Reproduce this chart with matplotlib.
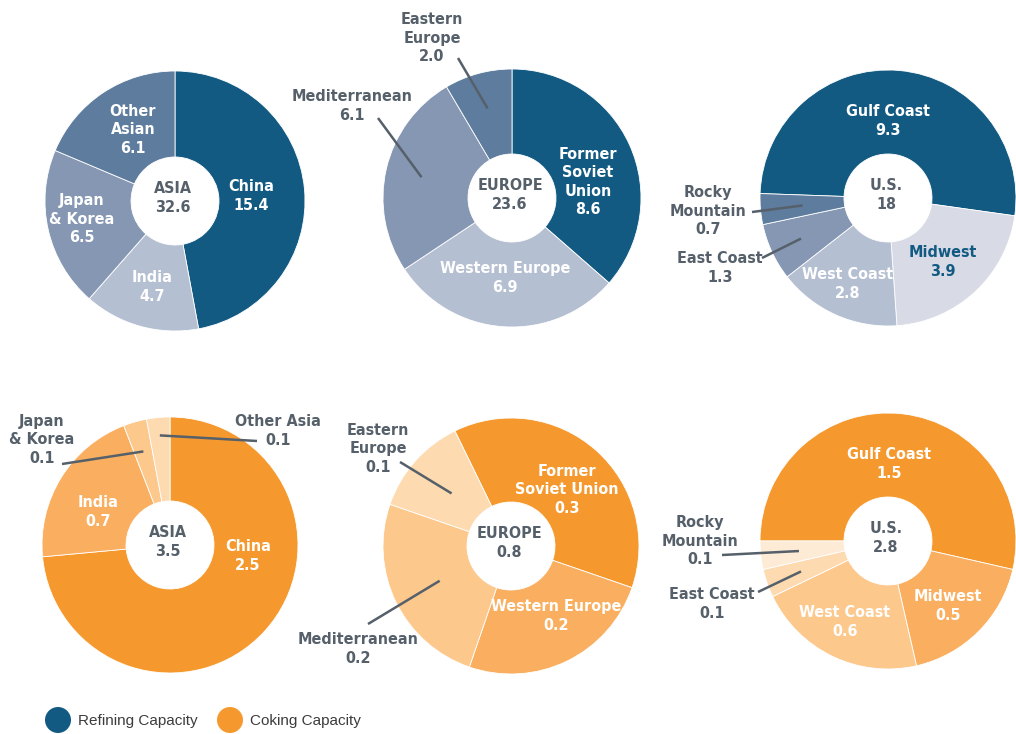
import numpy as np
import matplotlib
matplotlib.use('Agg')
import matplotlib.pyplot as plt
from matplotlib.patches import Circle

# --- data ---
asia_ref_labels = ['China', 'India', 'Japan\n& Korea', 'Other\nAsian']
asia_ref_values = [15.4, 4.7, 6.5, 6.1]
asia_ref_total = '32.6'

eur_ref_labels = ['Former\nSoviet\nUnion', 'Western Europe', 'Mediterranean', 'Eastern\nEurope']
eur_ref_values = [8.6, 6.9, 6.1, 2.0]
eur_ref_total = '23.6'

us_ref_labels = ['Gulf Coast', 'Midwest', 'West Coast', 'East Coast', 'Rocky\nMountain']
us_ref_values = [9.3, 3.9, 2.8, 1.3, 0.7]
us_ref_total = '18'

asia_cok_labels = ['China', 'India', 'Japan\n& Korea', 'Other Asia']
asia_cok_values = [2.5, 0.7, 0.1, 0.1]
asia_cok_total = '3.5'

eur_cok_labels = ['Former\nSoviet Union', 'Western Europe', 'Mediterranean', 'Eastern\nEurope']
eur_cok_values = [0.3, 0.2, 0.2, 0.1]
eur_cok_total = '0.8'

us_cok_labels = ['Gulf Coast', 'Midwest', 'West Coast', 'East Coast', 'Rocky\nMountain']
us_cok_values = [1.5, 0.5, 0.6, 0.1, 0.1]
us_cok_total = '2.8'

# --- styles ---
BLUES = ['#135a82', '#b5bfd2', '#8597b3', '#5e7c9e']
US_BLUES = ['#135a82', '#d8dbe6', '#b5bfd2', '#8597b3', '#5e7c9e']
ORANGES = ['#f5992e', '#f9af5f', '#fcc88c', '#fddab0']
US_ORANGES = ['#f5992e', '#f9af5f', '#fcc88c', '#fddab0', '#feebd5']
GRAY = '#56606a'
FONT = ['DejaVu Sans']

W, H = 1016, 734
fig = plt.figure(figsize=(W / 100, H / 100), dpi=100)
ax = fig.add_axes([0, 0, 1, 1])


def Y(y):
    return H - y


def txt(x, y, s, color='white', size=11.5):
    ax.text(x, Y(y), s, ha='center', va='center', color=color, fontsize=size,
            fontweight='bold', family=FONT, fontstretch='condensed', linespacing=1.3)


def donut(cx, cy, r, values, colors, start, total_name):
    wedges, _ = ax.pie(values, colors=colors, startangle=start, counterclock=False,
                       radius=r, center=(cx, Y(cy)),
                       wedgeprops=dict(width=r - 44, edgecolor='white', linewidth=0.6))
    txt(cx - 2, cy - 3, total_name, color=GRAY)
    return wedges


def leader(w, frac, x2, y2):
    # line from inside wedge (mid angle) out to label
    a = np.deg2rad((w.theta1 + w.theta2) / 2)
    cx, cy = w.center
    x1 = cx + w.r * frac * np.cos(a)
    y1 = cy + w.r * frac * np.sin(a)
    ax.plot([x1, x2], [y1, Y(y2)], color=GRAY, lw=1.8, solid_capstyle='butt')


def lab(names, values, i):
    return f'{names[i]}\n{values[i]}'


# top row: refining
w = donut(175, 201, 130, asia_ref_values, BLUES, 90, 'ASIA\n' + asia_ref_total)
txt(251, 196, lab(asia_ref_labels, asia_ref_values, 0))
txt(152, 287, lab(asia_ref_labels, asia_ref_values, 1))
txt(82, 219, lab(asia_ref_labels, asia_ref_values, 2))
txt(133, 130, lab(asia_ref_labels, asia_ref_values, 3))

w = donut(512, 198, 129, eur_ref_values, BLUES, 90, 'EUROPE\n' + eur_ref_total)
txt(588, 182, lab(eur_ref_labels, eur_ref_values, 0))
txt(505, 278, lab(eur_ref_labels, eur_ref_values, 1))
txt(352, 106, lab(eur_ref_labels, eur_ref_values, 2), color=GRAY)
leader(w[2], 0.72, 378, 118)
txt(432, 38, lab(eur_ref_labels, eur_ref_values, 3), color=GRAY)
leader(w[3], 0.72, 458, 58)

w = donut(888, 198, 128, us_ref_values, US_BLUES, 178, 'U.S.\n' + us_ref_total)
txt(888, 121, lab(us_ref_labels, us_ref_values, 0))
txt(943, 262, lab(us_ref_labels, us_ref_values, 1), color='#135a82')
txt(848, 284, lab(us_ref_labels, us_ref_values, 2))
txt(720, 268, lab(us_ref_labels, us_ref_values, 3), color=GRAY)
leader(w[3], 0.75, 762, 258)
txt(708, 211, lab(us_ref_labels, us_ref_values, 4), color=GRAY)
leader(w[4], 0.67, 752, 212)

# bottom row: coking
w = donut(170, 545, 128, asia_cok_values, ORANGES, 90, 'ASIA\n' + asia_cok_total)
txt(248, 556, lab(asia_cok_labels, asia_cok_values, 0))
txt(98, 512, lab(asia_cok_labels, asia_cok_values, 1))
txt(42, 440, lab(asia_cok_labels, asia_cok_values, 2), color=GRAY)
leader(w[2], 0.76, 62, 464)
txt(278, 431, lab(asia_cok_labels, asia_cok_values, 3), color=GRAY)
leader(w[3], 0.86, 257, 441)

w = donut(511, 546, 128, eur_cok_values, ORANGES, 116, 'EUROPE\n' + eur_cok_total)
txt(567, 490, lab(eur_cok_labels, eur_cok_values, 0))
txt(556, 616, lab(eur_cok_labels, eur_cok_values, 1))
txt(358, 649, lab(eur_cok_labels, eur_cok_values, 2), color=GRAY)
leader(w[2], 0.62, 368, 624)
txt(378, 449, lab(eur_cok_labels, eur_cok_values, 3), color=GRAY)
leader(w[3], 0.62, 400, 462)

w = donut(888, 541, 128, us_cok_values, US_ORANGES, 180, 'U.S.\n' + us_cok_total)
txt(889, 464, lab(us_cok_labels, us_cok_values, 0))
txt(948, 606, lab(us_cok_labels, us_cok_values, 1))
txt(845, 622, lab(us_cok_labels, us_cok_values, 2))
txt(712, 604, lab(us_cok_labels, us_cok_values, 3), color=GRAY)
leader(w[3], 0.72, 758, 592)
txt(700, 541, lab(us_cok_labels, us_cok_values, 4), color=GRAY)
leader(w[4], 0.7, 722, 555)

# legend
ax.add_patch(Circle((58, Y(720)), 13, color='#135a82', lw=0))
ax.text(78, Y(721), 'Refining Capacity', ha='left', va='center', color='#3c3c3c',
        fontsize=11, family=['Liberation Sans', 'DejaVu Sans'])
ax.add_patch(Circle((230, Y(720)), 13, color='#f5992e', lw=0))
ax.text(250, Y(721), 'Coking Capacity', ha='left', va='center', color='#3c3c3c',
        fontsize=11, family=['Liberation Sans', 'DejaVu Sans'])

ax.set_xlim(0, W)
ax.set_ylim(0, H)
ax.set_aspect('equal')
ax.axis('off')

fig.savefig('out.png', dpi=100)
